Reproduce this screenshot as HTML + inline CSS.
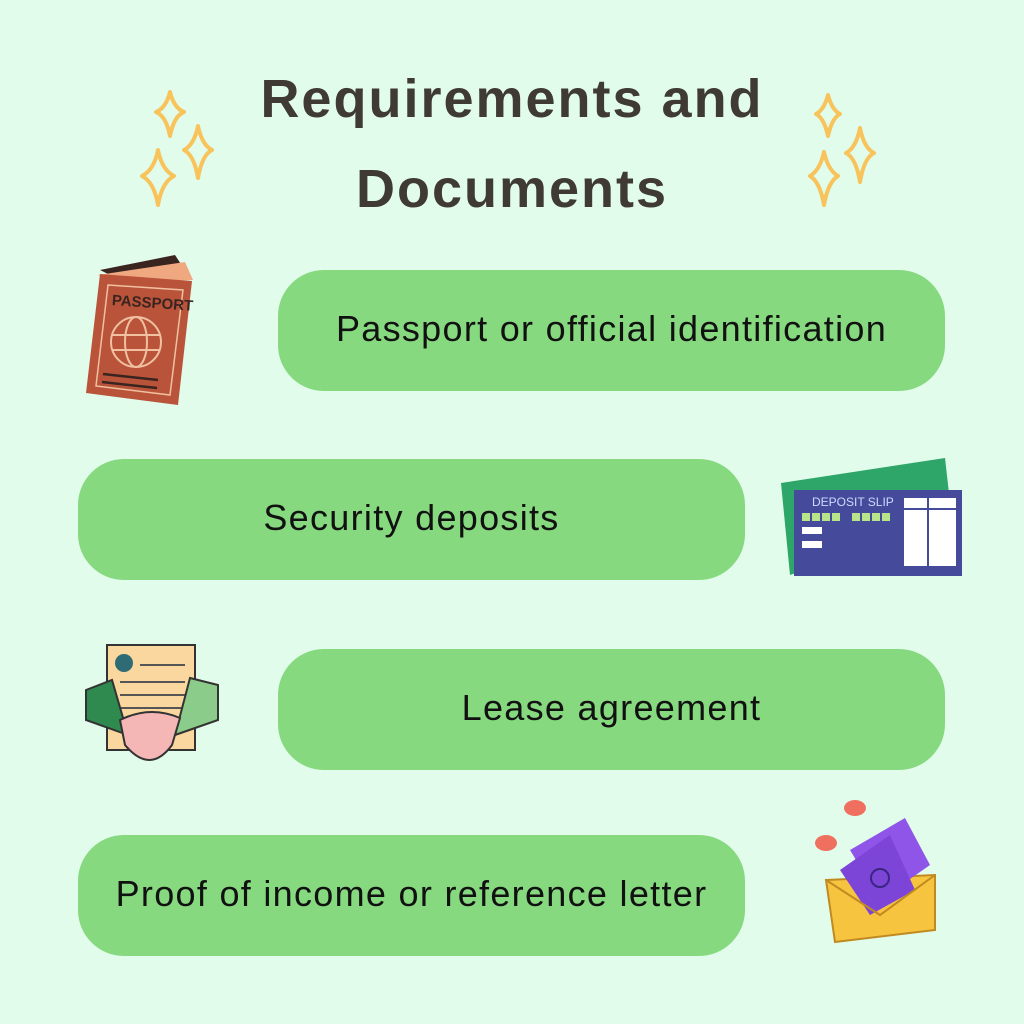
<!DOCTYPE html>
<html><head><style>
body{margin:0;width:1024px;height:1024px;background:#e1fcea;position:relative;overflow:hidden;font-family:"Liberation Sans","DejaVu Sans",sans-serif}
.t{position:absolute;left:0;width:1024px;text-align:center;color:#3f3a33;font-size:54px;font-weight:bold;letter-spacing:2px}
.p{position:absolute;width:667px;height:121px;border-radius:46px;background:#86d97e;display:flex;align-items:center;justify-content:center;font-size:36px;color:#111;letter-spacing:1.3px;padding-bottom:4px;box-sizing:border-box}
svg{position:absolute}
</style></head><body>
<div class="t" style="top:68px">Requirements and</div>
<div class="t" style="top:158px">Documents</div>
<svg width="1024" height="1024" style="left:0;top:0">
<g fill="none" stroke="#f7c35a" stroke-width="4" stroke-linejoin="round">
<path d="M170 92 Q174 108 184 112 Q174 116 170 136 Q166 116 156 112 Q166 108 170 92Z"/>
<path d="M198 126 Q202 145 212 150 Q202 155 198 178 Q194 155 184 150 Q194 145 198 126Z"/>
<path d="M158 150 Q162 170 174 176 Q162 182 158 205 Q154 182 142 176 Q154 170 158 150Z"/>
<path d="M828 95 Q832 110 840 114 Q832 118 828 136 Q824 118 816 114 Q824 110 828 95Z"/>
<path d="M860 128 Q864 148 874 153 Q864 158 860 182 Q856 158 846 153 Q856 148 860 128Z"/>
<path d="M824 152 Q828 170 838 176 Q828 182 824 205 Q820 182 810 176 Q820 170 824 152Z"/>
</g>
<path d="M100 270 L175 255 L190 278 L110 275Z" fill="#3a2420"/>
<path d="M98 275 L185 262 L193 280 L110 282Z" fill="#f0a880"/>
<path d="M100 274 L192 281 L178 405 L86 393Z" fill="#b9543a"/>
<path d="M108 285 L183 290 L170 395 L96 386Z" fill="none" stroke="#f0c0a0" stroke-width="1.5"/>
<text x="112" y="307" font-size="15" font-weight="bold" fill="#3a2420" font-family="Liberation Sans" transform="rotate(4 140 300)">PASSPORT</text>
<circle cx="136" cy="342" r="25" fill="none" stroke="#f0c0a0" stroke-width="2"/>
<ellipse cx="136" cy="342" rx="11" ry="25" fill="none" stroke="#f0c0a0" stroke-width="2"/>
<path d="M112 335 H160 M112 350 H160" stroke="#f0c0a0" stroke-width="2"/>
<path d="M103 374 L158 380 M102 382 L157 388" stroke="#3a2420" stroke-width="2.5"/>
<path d="M781 483 L945 458 L952 520 L790 575Z" fill="#2ea66a"/>
<rect x="794" y="490" width="168" height="86" fill="#454b9a"/>
<text x="812" y="506" font-size="12" fill="#d0d8ff" font-family="Liberation Sans">DEPOSIT SLIP</text>
<g fill="#b8e48a"><rect x="802" y="513" width="8" height="8"/><rect x="812" y="513" width="8" height="8"/><rect x="822" y="513" width="8" height="8"/><rect x="832" y="513" width="8" height="8"/><rect x="852" y="513" width="8" height="8"/><rect x="862" y="513" width="8" height="8"/><rect x="872" y="513" width="8" height="8"/><rect x="882" y="513" width="8" height="8"/></g>
<rect x="802" y="527" width="20" height="7" fill="#fff"/><rect x="802" y="541" width="20" height="7" fill="#fff"/>
<rect x="904" y="498" width="52" height="68" fill="#fff"/>
<path d="M928 498 V566 M904 509 H956" stroke="#454b9a" stroke-width="2"/>
<rect x="107" y="645" width="88" height="105" fill="#fbd7a0" stroke="#333" stroke-width="2"/>
<circle cx="124" cy="663" r="9" fill="#2f6b74"/>
<path d="M140 665 H185 M120 682 H185 M120 695 H185 M120 708 H185" stroke="#555" stroke-width="2"/>
<path d="M86 690 L112 680 L128 735 L86 720Z" fill="#2f8a50" stroke="#333" stroke-width="2"/>
<path d="M218 685 L190 678 L175 735 L218 720Z" fill="#8ccc8a" stroke="#333" stroke-width="2"/>
<path d="M120 720 Q150 705 180 718 L172 745 Q150 775 125 745Z" fill="#f5b6b6" stroke="#333" stroke-width="2"/>
<ellipse cx="855" cy="808" rx="11" ry="8" fill="#f07060"/>
<ellipse cx="826" cy="843" rx="11" ry="8" fill="#f07060"/>
<path d="M826 880 L935 875 L935 930 L835 942Z" fill="#f7c440" stroke="#c08a20" stroke-width="2"/>
<path d="M850 850 L905 818 L930 865 L880 900Z" fill="#8f55e8"/>
<path d="M840 870 L890 835 L915 890 L870 915Z" fill="#7c45d8"/>
<circle cx="880" cy="878" r="9" fill="none" stroke="#3a2580" stroke-width="2"/>
<path d="M826 880 L880 915 L935 875" fill="none" stroke="#c08a20" stroke-width="2"/>
</svg>
<div class="p" style="left:278px;top:270px">Passport or official identification</div>
<div class="p" style="left:78px;top:459px">Security deposits</div>
<div class="p" style="left:278px;top:649px">Lease agreement</div>
<div class="p" style="left:78px;top:835px">Proof of income or reference letter</div>
</body></html>
